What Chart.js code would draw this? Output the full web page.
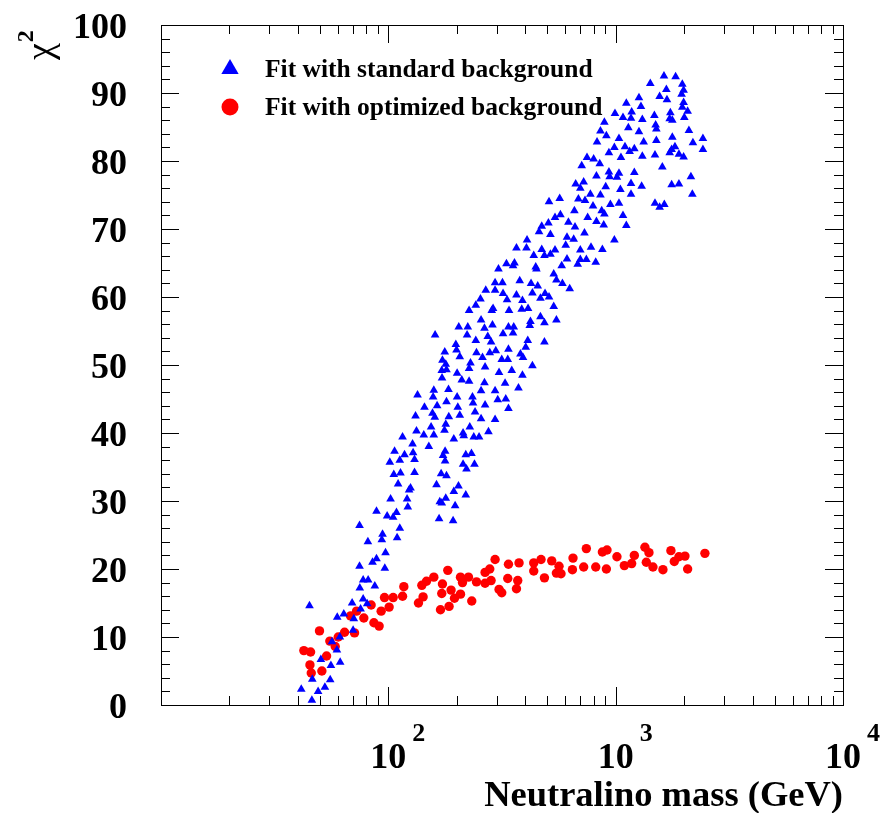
<!DOCTYPE html>
<html>
<head>
<meta charset="utf-8">
<title>chi2 vs neutralino mass</title>
<script src="https://cdn.jsdelivr.net/npm/chart.js@4.4.0/dist/chart.umd.min.js"></script>
<style>
  html, body { margin: 0; padding: 0; background: #ffffff; }
  #wrap { width: 882px; height: 813px; }
</style>
</head>
<body>
<div id="wrap"><canvas id="myChart" width="882" height="813"></canvas></div>
<script>
// valores: massa do neutralino (GeV) e chi2
var serieLabels = ['Fit with standard background', 'Fit with optimized background'];

var blueMass = [
  88.7, 74.7, 81.3, 88.7, 85.2, 74.7, 77.5, 81.5, 74.9, 87.2, 45.0, 69.3, 77.5, 80.7, 75.5, 63.7, 59.6, 70.5,
  61.2, 70.0, 56.5, 59.4, 50.5, 61.4, 55.9, 46.3, 55.5, 52.6, 49.1, 41.4, 46.1, 94.3, 93.6, 109.3, 97.2, 96.5,
  226.6, 242.5, 160.6, 204.1, 223.6, 222.0, 242.5, 198.1, 199.5, 177.1, 206.2, 244.2, 173.0, 178.9, 229.8, 226.6,
  171.8, 180.2, 172.3, 200.7, 210.4, 226.6, 326.2, 373.6, 134.4, 158.5, 157.4, 183.9, 200.7, 255.8, 264.8, 294.8,
  180.2, 234.5, 235.9, 302.9, 328.5, 337.6, 266.4, 144.2, 163.9, 202.1, 131.7, 156.4, 160.1, 184.5, 206.2, 240.7,
  255.8, 294.8, 154.2, 178.9, 176.6, 228.2, 133.0, 143.2, 158.5, 194.1, 213.2, 214.7, 237.6, 250.7, 275.7, 115.5,
  127.8, 150.7, 106.5, 128.5, 117.8, 112.3, 130.4, 101.5, 177.7, 174.1, 177.7, 219.1, 232.1, 213.2, 239.3, 220.7,
  105.7, 113.1, 130.4, 170.7, 180.2, 110.4, 125.2, 123.4, 162.9, 203.5, 194.1, 219.1, 102.3, 120.9, 121.8, 168.4,
  178.9, 171.8, 196.7, 98.8, 105.0, 108.6, 167.2, 192.7, 112.3,
  667.0, 509.1, 567.3, 685.5, 658.3, 541.0, 571.4, 472.9, 460.2, 506.0, 516.4, 619.6, 662.3, 407.5, 366.1, 405.1,
  436.1, 472.9, 486.0, 516.4, 541.0, 610.8, 653.6, 602.9, 610.8, 680.8, 578.9, 305.1, 330.8, 358.8, 353.7, 445.0,
  448.1, 534.0, 548.7, 378.4, 424.4, 454.1, 583.1, 627.8, 294.8, 317.7, 268.3, 294.8, 319.6, 430.3, 366.1, 489.0,
  509.1, 332.8, 389.0, 466.7, 534.0, 254.3, 288.9, 285.1, 339.6, 386.2, 411.7, 466.7, 421.8, 418.8, 486.0, 548.7,
  255.8, 287.1, 264.8, 337.6, 356.2, 353.7, 319.6, 273.8, 283.1, 410.5, 486.0, 402.2, 296.9, 337.6, 279.4, 259.5,
  381.2, 391.3, 315.4, 335.2, 430.3, 266.4, 349.1, 306.9, 389.0,
  1631, 1835, 1420, 1671, 1964, 1990, 1950, 1561, 1681, 1266, 1292, 1114, 1990, 1964, 1176, 1168, 2073, 993,
  1077, 1310, 1480, 1740, 1728, 1775, 2004, 1499, 1510, 1137, 1266, 2100, 892, 857, 910, 1034, 828, 1328,
  1510, 1775, 2187, 2420, 2420, 987, 1099, 1208, 1152, 934, 1055, 1310, 1489, 1728, 1763, 1823, 1898, 1990,
  748, 800, 851, 709, 1604, 934, 941, 1034, 1013, 1208, 823, 1168, 1301, 904, 1049, 723, 699, 774,
  857, 1168, 1763, 1898, 2143, 2174, 733, 795, 948, 1034, 1489, 1561, 1637, 868, 892, 1077, 753, 823,
  886, 729, 1114, 987, 779, 874, 699, 699, 743, 817
];
var blueChi2 = [
  28.5, 26.4, 24.0, 21.5, 21.0, 20.4, 18.4, 18.4, 17.2, 17.5, 14.6, 15.0, 15.6, 14.9, 14.1, 13.4, 12.9, 12.7,
  10.0, 11.0, 9.3, 8.1, 6.7, 6.3, 5.8, 3.8, 3.7, 2.6, 2.0, 2.3, 0.7, 25.1, 24.3, 24.6, 22.4, 20.1,
  58.0, 58.8, 54.4, 55.6, 55.6, 54.4, 53.6, 53.0, 52.2, 51.9, 51.2, 51.8, 50.7, 50.1, 50.3, 49.5,
  49.2, 49.3, 48.1, 48.8, 47.8, 47.6, 47.3, 46.6, 45.6, 46.3, 45.3, 46.4, 45.3, 46.2, 47.4, 46.2,
  44.6, 45.3, 44.4, 44.9, 45.0, 43.6, 44.1, 43.8, 44.0, 43.8, 42.5, 42.9, 42.3, 42.4, 42.6, 43.1,
  42.1, 42.0, 40.9, 41.3, 40.4, 40.9, 40.3, 39.7, 39.7, 39.1, 40.0, 39.6, 39.4, 39.4, 40.2, 39.4,
  38.4, 38.0, 37.3, 37.1, 36.8, 36.0, 36.1, 35.7, 37.3, 36.7, 35.9, 36.8, 37.0, 35.4, 35.4, 34.7,
  33.9, 34.1, 34.2, 34.0, 33.7, 32.5, 31.9, 31.6, 32.4, 32.2, 31.4, 30.9, 30.3, 30.3, 29.1, 29.9,
  30.4, 29.7, 29.3, 27.8, 27.6, 28.3, 27.4, 27.1, 26.0,
  76.6, 74.0, 74.5, 74.4, 72.7, 71.7, 72.1, 70.4, 69.6, 70.9, 69.2, 71.0, 70.3, 68.4, 67.2, 67.2,
  66.1, 67.0, 66.1, 66.3, 66.9, 68.8, 68.5, 67.6, 65.6, 64.8, 64.6, 64.1, 64.9, 65.0, 64.6, 64.4,
  64.1, 63.4, 62.5, 62.4, 62.0, 61.6, 62.0, 61.2, 62.1, 62.1, 61.0, 61.0, 60.5, 60.6, 60.3, 60.5,
  60.0, 59.6, 59.5, 59.8, 58.6, 59.7, 58.3, 58.0, 58.0, 58.2, 58.3, 57.1, 56.4, 55.8, 56.2, 56.6,
  56.6, 55.9, 55.4, 55.6, 55.6, 54.7, 54.6, 54.2, 53.4, 53.6, 53.4, 52.6, 52.1, 52.3, 51.8, 51.1,
  51.6, 51.1, 50.8, 50.8, 49.9, 49.7, 49.2, 48.9, 48.5,
  92.5, 92.4, 91.4, 90.5, 91.3, 90.4, 89.8, 89.5, 89.0, 89.3, 88.0, 88.5, 88.6, 87.9, 87.2, 86.3, 87.3, 87.0,
  86.4, 86.1, 86.7, 87.1, 86.2, 86.0, 86.4, 85.3, 84.7, 84.9, 84.3, 84.5, 85.7, 84.4, 83.7, 83.3, 82.8, 82.8,
  83.0, 83.5, 82.7, 83.3, 81.7, 82.0, 82.1, 81.8, 81.4, 81.2, 80.5, 80.7, 80.9, 81.2, 81.7, 82.1, 81.0, 80.6,
  80.5, 80.3, 79.6, 79.3, 79.1, 78.4, 77.7, 78.2, 77.6, 78.3, 77.8, 76.7, 76.3, 76.2, 75.8, 76.9, 76.0, 75.1,
  75.0, 75.1, 76.5, 76.6, 77.7, 75.1, 74.2, 73.4, 73.6, 73.8, 73.8, 73.2, 73.6, 72.7, 72.2, 72.0, 71.7, 71.1,
  70.6, 69.4, 70.5, 68.4, 67.3, 67.0, 66.9, 65.5, 65.5, 65.1
];

var redMass = [
  182.6, 158.5, 207.7, 211.9, 225.2, 244.2, 147.2, 140.4, 173.0, 188.8, 117.0, 171.8, 207.7, 195.4, 142.2, 232.8,
  135.7, 185.0, 169.6, 96.2, 105.0, 115.5, 84.0, 100.8, 93.0, 72.5, 68.2, 78.0, 86.4, 91.1, 49.8, 64.2,
  71.0, 60.2, 55.3, 58.4, 42.5, 45.5, 53.5, 45.2, 45.8, 51.0,
  743, 874, 916, 1345, 1401, 1750, 2469, 294.8, 337.6, 375.8, 436.1, 469.6, 523.3, 563.4, 649.1, 1013,
  1208, 1176, 1092, 1364, 1898, 2017, 1811, 436.1, 548.7, 574.9, 645.2, 723.2, 817.1, 910.1, 1459, 1614,
  2073, 266.4, 279.4, 283.1, 266.4, 335.2, 370.9, 486.0, 306.9, 315.4, 366.1
];
var redChi2 = [
  19.8, 18.8, 18.8, 18.0, 18.8, 18.1, 18.2, 17.6, 17.8, 16.9, 17.4, 16.4, 16.3, 15.7, 15.9, 15.3,
  15.0, 14.5, 14.0, 15.8, 15.8, 16.0, 14.7, 14.4, 13.8, 13.8, 13.1, 12.8, 12.1, 11.6, 10.9, 10.7,
  10.6, 10.0, 9.4, 8.6, 8.0, 7.8, 7.2, 5.9, 4.7, 5.0,
  23.0, 22.5, 22.8, 23.2, 22.4, 22.7, 22.3, 21.4, 20.7, 20.9, 20.9, 21.4, 21.2, 20.4, 21.6, 21.8,
  22.0, 20.8, 20.5, 21.0, 21.8, 21.9, 21.1, 19.7, 19.4, 19.3, 19.9, 20.3, 20.3, 20.0, 20.3, 19.9,
  20.0, 19.5, 20.0, 18.3, 17.9, 18.6, 18.3, 18.7, 17.0, 16.5, 17.1
];

// eixos
var xMin = 10, xMax = 10000;
var xLabelDecades = [100, 1000, 10000];
var xLabelExponents = ['2', '3', '4'];
var yMin = 0, yMax = 100;
var yTickLabels = [0, 10, 20, 30, 40, 50, 60, 70, 80, 90, 100];
var xTitle = 'Neutralino mass (GeV)';

var FONTE = '"Liberation Serif", "Times New Roman", serif';
var AZUL = '#0000ff';
var VERMELHO = '#ff0000';

function montarPontos(xs, ys) 
{
    return xs.map(function (v, i) { return { x: v, y: ys[i] }; });
}

function desenharTriangulo(ctx, x, y, r) 
{
    ctx.beginPath();
    ctx.moveTo(x, y - r);
    ctx.lineTo(x + r * Math.sin(2 * Math.PI / 3), y - r * Math.cos(2 * Math.PI / 3));
    ctx.lineTo(x + r * Math.sin(4 * Math.PI / 3), y - r * Math.cos(4 * Math.PI / 3));
    ctx.closePath();
    ctx.fill();
}

// moldura, ticks internos, rotulos e legenda no estilo ROOT
var estiloRoot = 
{
    id: 'estiloRoot',
    afterDatasetsDraw: function (chart) 
    {
        var ctx = chart.ctx;
        var a = chart.chartArea;
        var sx = chart.scales.x;
        var sy = chart.scales.y;

        ctx.save();
        ctx.strokeStyle = '#000';
        ctx.lineWidth = 1;
        ctx.beginPath();

        // ticks do eixo y (esquerda e direita)
        for (var v = yMin; v <= yMax; v += 2) 
        {
            var py = Math.round(sy.getPixelForValue(v)) + 0.5;
            var len = (v % 10 === 0) ? 18 : 9;
            ctx.moveTo(a.left, py); ctx.lineTo(a.left + len, py);
            ctx.moveTo(a.right, py); ctx.lineTo(a.right - len, py);
        }

        // ticks do eixo x (baixo e cima)
        for (var d = xMin; d < xMax; d *= 10) 
        {
            for (var k = 1; k <= 9; k++) 
            {
                var px = Math.round(sx.getPixelForValue(k * d)) + 0.5;
                var lx = (k === 1) ? 18 : 9;
                ctx.moveTo(px, a.bottom); ctx.lineTo(px, a.bottom - lx);
                ctx.moveTo(px, a.top); ctx.lineTo(px, a.top + lx);
            }
        }
        ctx.stroke();

        ctx.strokeRect(Math.round(a.left) + 0.5, Math.round(a.top) + 0.5,
                       Math.round(a.right - a.left), Math.round(a.bottom - a.top));

        // rotulos do eixo y
        ctx.fillStyle = '#000';
        ctx.font = 'bold 36px ' + FONTE;
        ctx.textAlign = 'right';
        ctx.textBaseline = 'alphabetic';
        yTickLabels.forEach(function (t) 
        {
            ctx.fillText(String(t), 127, sy.getPixelForValue(t) + 13);
        });

        // rotulos do eixo x (10^n)
        xLabelDecades.forEach(function (dec, i) 
        {
            var px = sx.getPixelForValue(dec);
            ctx.font = 'bold 36px ' + FONTE;
            ctx.textAlign = 'center';
            ctx.fillText('10', px, 768);
            ctx.font = 'bold 26px ' + FONTE;
            ctx.textAlign = 'left';
            ctx.fillText(xLabelExponents[i], px + 24, 741);
        });

        // titulo do eixo x
        ctx.font = 'bold 36.5px ' + FONTE;
        ctx.textAlign = 'right';
        ctx.fillText(xTitle, a.right, 806);

        // titulo do eixo y (chi^2, girado)
        ctx.save();
        ctx.translate(52, 60);
        ctx.rotate(-Math.PI / 2);
        ctx.textAlign = 'left';
        ctx.font = '38px ' + FONTE;
        ctx.fillText('\u03C7', 0, 0);
        var w = ctx.measureText('\u03C7').width;
        ctx.font = 'bold 24px ' + FONTE;
        ctx.fillText('2', w + 1, -19);
        ctx.restore();

        // legenda
        var ds = chart.data.datasets;
        ctx.font = 'bold 25.5px ' + FONTE;
        ctx.textAlign = 'left';
        ctx.fillStyle = ds[0].backgroundColor;
        desenharTriangulo(ctx, 230, 69, 10);
        ctx.fillStyle = '#000';
        ctx.fillText(ds[0].label, 265, 77);

        ctx.fillStyle = ds[1].backgroundColor;
        ctx.beginPath();
        ctx.arc(230, 107, 8.5, 0, 2 * Math.PI);
        ctx.fill();
        ctx.fillStyle = '#000';
        ctx.fillText(ds[1].label, 265, 115);

        ctx.restore();
    }
};

var chartData = 
{
    datasets: [
        {
            label: serieLabels[0],
            data: montarPontos(blueMass, blueChi2),
            pointStyle: 'triangle',
            pointRadius: 5,
            pointBorderWidth: 0,
            backgroundColor: AZUL,
            borderColor: AZUL
        },
        {
            label: serieLabels[1],
            data: montarPontos(redMass, redChi2),
            pointStyle: 'circle',
            pointRadius: 4.7,
            pointBorderWidth: 0,
            backgroundColor: VERMELHO,
            borderColor: VERMELHO
        }
    ]
};

var chartOptions = 
{
    responsive: false,
    maintainAspectRatio: false,
    animation: false,
    events: [],
    layout: { padding: { left: 161, right: 39, top: 25, bottom: 108 } },
    plugins: {
        legend: { display: false },
        tooltip: { enabled: false },
        title: { display: false }
    },
    scales: {
        x: { type: 'logarithmic', min: xMin, max: xMax, display: false },
        y: { type: 'linear', min: yMin, max: yMax, display: false }
    }
};

var chart = new Chart(document.getElementById('myChart').getContext('2d'), 
{
    type: 'scatter',
    data: chartData,
    options: chartOptions,
    plugins: [estiloRoot]
});
</script>
</body>
</html>
